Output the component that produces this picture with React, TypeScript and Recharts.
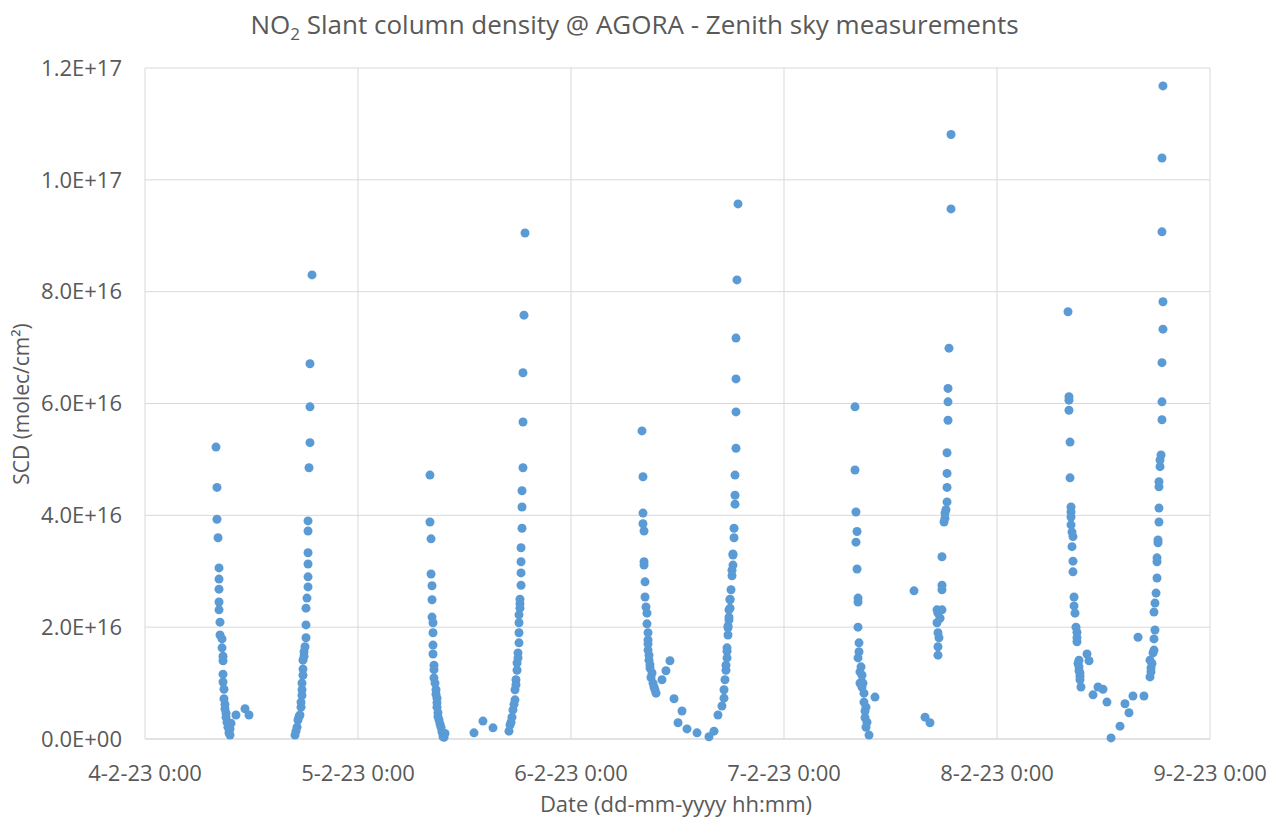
import React from 'react';
import { ScatterChart, Scatter, XAxis, YAxis, CartesianGrid } from 'recharts';

// x = hours since 4-2-23 0:00, y = SCD in units of 1E16 molec/cm²
const xTickHours = [0, 24, 48, 72, 96, 120];
const xTickLabels = ['4-2-23 0:00', '5-2-23 0:00', '6-2-23 0:00', '7-2-23 0:00', '8-2-23 0:00', '9-2-23 0:00'];
const yTicks = [0, 2e16, 4e16, 6e16, 8e16, 1e17, 1.2e17];

const feb4Afternoon: [number, number][] = [
  [8.00, 5.22], [8.11, 4.50], [8.11, 3.93], [8.23, 3.60], [8.34, 3.06], [8.34, 2.86], [8.34, 2.68], [8.34, 2.45],
  [8.34, 2.31], [8.45, 2.09], [8.45, 1.86], [8.68, 1.79], [8.68, 1.63], [8.79, 1.48], [8.79, 1.40], [8.79, 1.16],
  [8.79, 1.02], [8.90, 0.89], [8.90, 0.72], [9.01, 0.62], [9.01, 0.54], [9.13, 0.46], [9.13, 0.39], [9.24, 0.30],
  [9.35, 0.21], [9.46, 0.11], [9.58, 0.07], [9.58, 0.18], [9.69, 0.28], [10.25, 0.43], [11.27, 0.54], [11.72, 0.43],
];

const feb5Morning: [number, number][] = [
  [16.90, 0.07], [17.01, 0.14], [17.13, 0.21], [17.24, 0.34], [17.35, 0.40], [17.46, 0.43], [17.58, 0.57], [17.58, 0.66],
  [17.69, 0.78], [17.69, 0.88], [17.69, 1.00], [17.80, 1.14], [17.80, 1.25], [17.80, 1.41], [17.92, 1.48], [17.92, 1.56],
  [18.03, 1.65], [18.14, 1.81], [18.14, 2.04], [18.14, 2.34], [18.25, 2.52], [18.37, 2.72], [18.37, 2.90], [18.37, 3.13],
  [18.37, 3.33], [18.37, 3.72], [18.37, 3.90], [18.48, 4.85], [18.59, 5.30], [18.59, 5.94], [18.59, 6.71], [18.82, 8.30],
];

const feb5Afternoon: [number, number][] = [
  [32.11, 4.72], [32.11, 3.88], [32.23, 3.58], [32.23, 2.95], [32.34, 2.74], [32.34, 2.49], [32.34, 2.18], [32.45, 2.08],
  [32.45, 1.90], [32.45, 1.68], [32.45, 1.52], [32.56, 1.32], [32.56, 1.24], [32.56, 1.09], [32.68, 1.00], [32.79, 0.88],
  [32.79, 0.80], [32.90, 0.73], [32.90, 0.65], [32.90, 0.57], [33.01, 0.47], [33.01, 0.40], [33.13, 0.34], [33.24, 0.27],
  [33.35, 0.21], [33.46, 0.13], [33.58, 0.04], [33.58, 0.09], [33.69, 0.03], [33.80, 0.10], [37.07, 0.11], [38.08, 0.32],
  [39.21, 0.20],
];

const feb6Morning: [number, number][] = [
  [41.01, 0.14], [41.13, 0.25], [41.24, 0.30], [41.35, 0.39], [41.46, 0.52], [41.58, 0.62], [41.69, 0.70], [41.69, 0.88],
  [41.80, 0.97], [41.80, 1.06], [41.92, 1.23], [41.92, 1.36], [42.03, 1.45], [42.03, 1.54], [42.14, 1.72], [42.14, 1.90],
  [42.14, 2.08], [42.14, 2.22], [42.25, 2.34], [42.25, 2.42], [42.25, 2.50], [42.37, 2.75], [42.37, 2.97], [42.37, 3.17],
  [42.37, 3.42], [42.48, 3.77], [42.48, 4.15], [42.48, 4.44], [42.59, 4.85], [42.59, 5.67], [42.59, 6.55], [42.70, 7.58],
  [42.82, 9.05],
];

const feb6Afternoon: [number, number][] = [
  [56.00, 5.51], [56.11, 4.69], [56.11, 4.04], [56.11, 3.85], [56.23, 3.72], [56.23, 3.17], [56.23, 3.11], [56.34, 2.81],
  [56.34, 2.54], [56.45, 2.36], [56.56, 2.25], [56.56, 2.06], [56.68, 1.90], [56.68, 1.77], [56.68, 1.70], [56.68, 1.59],
  [56.79, 1.50], [56.79, 1.41], [56.90, 1.33], [56.90, 1.27], [57.01, 1.10], [57.13, 1.18], [57.24, 1.00], [57.35, 0.93],
  [57.46, 0.88], [57.58, 0.82], [58.25, 1.06], [58.70, 1.22], [59.15, 1.40], [59.61, 0.72], [60.06, 0.29], [60.51, 0.50],
  [61.07, 0.18], [62.20, 0.11], [63.55, 0.04], [64.11, 0.14], [64.56, 0.43],
];

const feb7Morning: [number, number][] = [
  [65.01, 0.59], [65.24, 0.73], [65.24, 0.88], [65.35, 1.06], [65.46, 1.23], [65.46, 1.32], [65.58, 1.45], [65.58, 1.57],
  [65.58, 1.63], [65.69, 1.86], [65.69, 1.99], [65.69, 2.02], [65.80, 2.13], [65.80, 2.18], [65.80, 2.31], [65.92, 2.34],
  [65.92, 2.49], [65.92, 2.50], [66.03, 2.67], [66.14, 2.92], [66.14, 3.02], [66.25, 3.11], [66.25, 3.29], [66.25, 3.31],
  [66.37, 3.60], [66.37, 3.77], [66.48, 4.20], [66.48, 4.36], [66.48, 4.72], [66.59, 5.20], [66.59, 5.85], [66.59, 6.44],
  [66.59, 7.17], [66.70, 8.21], [66.82, 9.57],
];

const feb7Afternoon: [number, number][] = [
  [80.00, 5.94], [80.00, 4.81], [80.11, 4.06], [80.23, 3.71], [80.11, 3.52], [80.23, 3.04], [80.34, 2.52], [80.34, 2.45],
  [80.34, 2.00], [80.45, 1.72], [80.45, 1.56], [80.34, 1.45], [80.68, 1.29], [80.56, 1.20], [80.79, 1.14], [80.56, 1.00],
  [80.90, 1.00], [80.79, 0.93], [81.01, 0.82], [81.01, 0.66], [81.24, 0.57], [81.13, 0.50], [82.25, 0.75], [81.13, 0.38],
  [81.35, 0.30], [81.24, 0.21], [81.58, 0.07],
];

const feb8Morning: [number, number][] = [
  [86.65, 2.65], [87.89, 0.39], [88.45, 0.29], [89.35, 1.50], [89.35, 1.65], [89.46, 1.81], [89.35, 1.90], [89.24, 2.08],
  [89.58, 2.16], [89.35, 2.25], [89.24, 2.31], [89.80, 2.31], [89.80, 2.67], [89.80, 2.75], [89.80, 3.26], [90.03, 3.88],
  [90.14, 3.95], [90.14, 4.04], [90.25, 4.10], [90.37, 4.24], [90.37, 4.50], [90.37, 4.75], [90.37, 5.12], [90.48, 5.70],
  [90.48, 6.03], [90.48, 6.27], [90.59, 6.99], [90.82, 9.48], [90.82, 10.81],
];

const feb8Afternoon: [number, number][] = [
  [104.00, 7.64], [104.11, 6.12], [104.11, 6.06], [104.11, 5.88], [104.23, 5.31], [104.23, 4.67], [104.34, 4.15],
  [104.34, 4.06], [104.34, 3.97], [104.34, 3.83], [104.45, 3.70], [104.56, 3.62], [104.45, 3.44], [104.56, 3.18],
  [104.56, 2.99], [104.68, 2.54], [104.68, 2.38], [104.79, 2.25], [104.90, 2.00], [105.01, 1.91], [105.01, 1.81],
  [105.01, 1.74], [105.13, 1.35], [105.24, 1.41], [105.24, 1.29], [105.24, 1.22], [105.35, 1.18], [105.35, 1.12],
  [105.35, 1.06], [105.46, 0.93], [106.14, 1.52], [106.37, 1.40], [106.82, 0.79], [107.38, 0.93], [107.94, 0.89],
  [108.39, 0.66], [108.85, 0.02], [109.86, 0.23], [110.42, 0.63], [110.87, 0.47], [111.32, 0.77], [111.89, 1.82],
  [112.56, 0.77],
];

const feb9Morning: [number, number][] = [
  [113.24, 1.11], [113.35, 1.20], [113.35, 1.27], [113.46, 1.35], [113.24, 1.41], [113.58, 1.54], [113.69, 1.59],
  [113.69, 1.79], [113.80, 1.95], [113.69, 2.27], [113.80, 2.43], [113.92, 2.61], [114.03, 2.88], [114.03, 3.17],
  [114.03, 3.24], [114.14, 3.51], [114.14, 3.56], [114.25, 3.88], [114.25, 4.13], [114.25, 4.51], [114.25, 4.60],
  [114.37, 4.87], [114.37, 4.99], [114.48, 5.08], [114.59, 5.71], [114.59, 6.03], [114.59, 6.73], [114.70, 7.33],
  [114.70, 7.82], [114.59, 9.07], [114.59, 10.39], [114.70, 11.68],
];

const sessions = [
  feb4Afternoon, feb5Morning, feb5Afternoon, feb6Morning, feb6Afternoon,
  feb7Morning, feb7Afternoon, feb8Morning, feb8Afternoon, feb9Morning,
];

const points = sessions.flat().map(([t, v]) => ({ t, scd: v * 1e16 }));

const TEXT = '#595959';
const GRID = '#d9d9d9';
const MARKER = '#5B9BD5';
const FONT = "'Open Sans', sans-serif";

function formatSci(v: number): string {
  if (v === 0) return '0.0E+00';
  let e = Math.floor(Math.log10(v) + 1e-9);
  let m = v / Math.pow(10, e);
  let ms = m.toFixed(1);
  if (ms === '10.0') { e += 1; ms = '1.0'; }
  return `${ms}E+${String(e).padStart(2, '0')}`;
}

const Dot = (props: any) => {
  const { cx, cy } = props;
  if (cx == null || cy == null) return null;
  return <circle cx={cx} cy={cy} r={4.5} fill={MARKER} />;
};

export default function App() {
  return (
    <div style={{ position: 'absolute', left: 0, top: 0, width: 1279, height: 818, background: '#fff', fontFamily: FONT }}>
      <div
        style={{
          position: 'absolute', left: -5, top: 4, width: 1279, textAlign: 'center',
          fontSize: 26, color: TEXT, lineHeight: '40px',
        }}
      >
        NO<sub style={{ fontSize: 17, verticalAlign: 'sub', lineHeight: 0 }}>2</sub> Slant column density @ AGORA - Zenith sky measurements
      </div>
      <ScatterChart width={1279} height={818} margin={{ top: 68, right: 69, bottom: 0, left: 0 }}>
        <CartesianGrid stroke={GRID} strokeWidth={1} />
        <XAxis
          type="number"
          dataKey="t"
          domain={[0, 120]}
          ticks={xTickHours}
          interval={0}
          tickFormatter={(v: number) => xTickLabels[xTickHours.indexOf(v)] ?? ''}
          axisLine={{ stroke: GRID }}
          tickLine={false}
          tickSize={0}
          tickMargin={26}
          height={79}
          tick={{ fill: TEXT, fontSize: 22, fontFamily: FONT }}
        />
        <YAxis
          type="number"
          dataKey="scd"
          domain={[0, 1.2e17]}
          ticks={yTicks}
          interval={0}
          tickFormatter={formatSci}
          axisLine={false}
          tickLine={false}
          tickSize={0}
          tickMargin={23}
          width={145}
          tick={{ fill: TEXT, fontSize: 22, fontFamily: FONT }}
        />
        <Scatter data={points} fill={MARKER} shape={<Dot />} isAnimationActive={false} />
      </ScatterChart>
      <div
        style={{
          position: 'absolute', left: 21 - 150, top: 404 - 15, width: 300, height: 30, lineHeight: '30px',
          textAlign: 'center', transform: 'rotate(-90deg)', fontSize: 21, color: TEXT,
        }}
      >
        SCD (molec/cm²)
      </div>
      <div
        style={{
          position: 'absolute', left: 676 - 250, top: 803 - 15, width: 500, height: 30, lineHeight: '30px',
          textAlign: 'center', fontSize: 22, color: TEXT,
        }}
      >
        Date (dd-mm-yyyy hh:mm)
      </div>
    </div>
  );
}
